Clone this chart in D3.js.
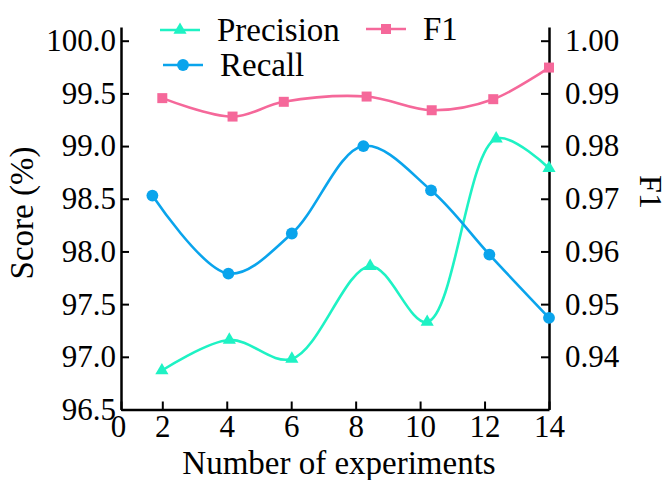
<!DOCTYPE html>
<html>
<head>
<meta charset="utf-8">
<script src="https://cdn.jsdelivr.net/npm/d3@7"></script>
</head>
<body style="margin:0;background:#fff">
<svg id="chart" width="666" height="480" font-family="Liberation Serif"></svg>
<script>
// ---- data ----
const xTicks = [0, 2, 4, 6, 8, 10, 12, 14];
const leftTicks = [96.5, 97.0, 97.5, 98.0, 98.5, 99.0, 99.5, 100.0];
const rightTicks = [0.94, 0.95, 0.96, 0.97, 0.98, 0.99, 1.00];

const xPrecision = [1.98, 4.08, 6.02, 8.45, 10.22, 12.36, 14.0];
const precision  = [96.87, 97.16, 96.98, 97.86, 97.33, 99.07, 98.79];
const xRecall    = [1.52, 4.05, 6.02, 8.24, 10.34, 12.15, 14.0];
const recall     = [98.53, 97.79, 98.17, 99.0, 98.58, 97.97, 97.37];
const xF1        = [2.0, 4.18, 5.77, 8.34, 10.36, 12.27, 14.0];
const f1         = [0.9891, 0.9856, 0.9884, 0.9894, 0.9868, 0.9889, 0.9949];

const colors = { precision: "#1ef2c4", recall: "#0aa4ec", f1: "#f5689a" };

// ---- layout ----
const svg = d3.select("#chart");
const L = 121, R = 549, T = 27, B = 409.5;

const x = d3.scaleLinear().domain([0, 2, 14]).range([L, 162.3, R]);
const yL = d3.scaleLinear().domain([96.5, 100.13]).range([B, T]);
const yR = d3.scaleLinear().domain([0.93, 1.0026]).range([B, T]);

function serif(sel) {
  return sel.attr("font-family", "Liberation Serif").attr("style", "font-family: 'Liberation Serif', serif");
}

// axes
const axB = svg.append("g").attr("transform", `translate(0,${B})`)
  .call(d3.axisBottom(x).tickValues(xTicks).tickFormat(d3.format("d"))
    .tickSizeInner(-8).tickSizeOuter(0).tickPadding(5));
const axL = svg.append("g").attr("transform", `translate(${L},0)`)
  .call(d3.axisLeft(yL).tickValues(leftTicks).tickFormat(d3.format(".1f"))
    .tickSizeInner(-8).tickSizeOuter(0).tickPadding(5));
const axR = svg.append("g").attr("transform", `translate(${R},0)`)
  .call(d3.axisRight(yR).tickValues(rightTicks).tickFormat(d3.format(".2f"))
    .tickSizeInner(-8).tickSizeOuter(0).tickPadding(16));

[axB, axL, axR].forEach(a => {
  serif(a).attr("font-size", 31);
  a.selectAll(".domain").attr("stroke", "#000").attr("stroke-width", 2.5);
  a.selectAll(".tick line").attr("stroke", "#000").attr("stroke-width", 2);
  serif(a.selectAll("text")).attr("font-size", 31).attr("fill", "#000");
});
axB.select(".tick text").attr("dx", -3);

// axis titles
serif(svg.append("text")).attr("x", 339).attr("y", 474).attr("text-anchor", "middle")
  .attr("font-size", 33).text("Number of experiments");
serif(svg.append("text")).attr("transform", "translate(33,213) rotate(-90)").attr("text-anchor", "middle")
  .attr("font-size", 33).text("Score (%)");
serif(svg.append("text")).attr("transform", "translate(640,192) rotate(90)").attr("text-anchor", "middle")
  .attr("font-size", 32).text("F1");

// series
function drawSeries(xs, ys, yScale, color, symbol, size) {
  const pts = xs.map((d, i) => [x(d), yScale(ys[i])]);
  svg.append("path").datum(pts)
    .attr("d", d3.line().curve(d3.curveCatmullRom.alpha(0.5)))
    .attr("fill", "none").attr("stroke", color).attr("stroke-width", 2.6);
  svg.append("g").selectAll("path").data(pts).join("path")
    .attr("transform", d => `translate(${d[0]},${d[1]})`)
    .attr("d", d3.symbol().type(symbol).size(size))
    .attr("fill", color);
}
drawSeries(xPrecision, precision, yL, colors.precision, d3.symbolTriangle, 75);
drawSeries(xRecall, recall, yL, colors.recall, d3.symbolCircle, 110);
drawSeries(xF1, f1, yR, colors.f1, d3.symbolSquare, 100);

// legend
const legend = [
  { name: "Precision", color: colors.precision, sym: d3.symbolTriangle, size: 75, x: 160, y: 30 },
  { name: "Recall", color: colors.recall, sym: d3.symbolCircle, size: 110, x: 163, y: 65 },
  { name: "F1", color: colors.f1, sym: d3.symbolSquare, size: 100, x: 366, y: 29 }
];
const lg = svg.append("g").selectAll("g").data(legend).join("g")
  .attr("transform", d => `translate(${d.x},${d.y})`);
lg.append("line").attr("x1", 0).attr("x2", 40).attr("y1", 0).attr("y2", 0)
  .attr("stroke", d => d.color).attr("stroke-width", 2.6);
lg.append("path").attr("transform", "translate(20,0)")
  .attr("d", d => d3.symbol().type(d.sym).size(d.size)()).attr("fill", d => d.color);
serif(lg.append("text")).attr("x", 57).attr("y", 11).attr("font-size", 33)
  .text(d => d.name);
</script>
</body>
</html>
